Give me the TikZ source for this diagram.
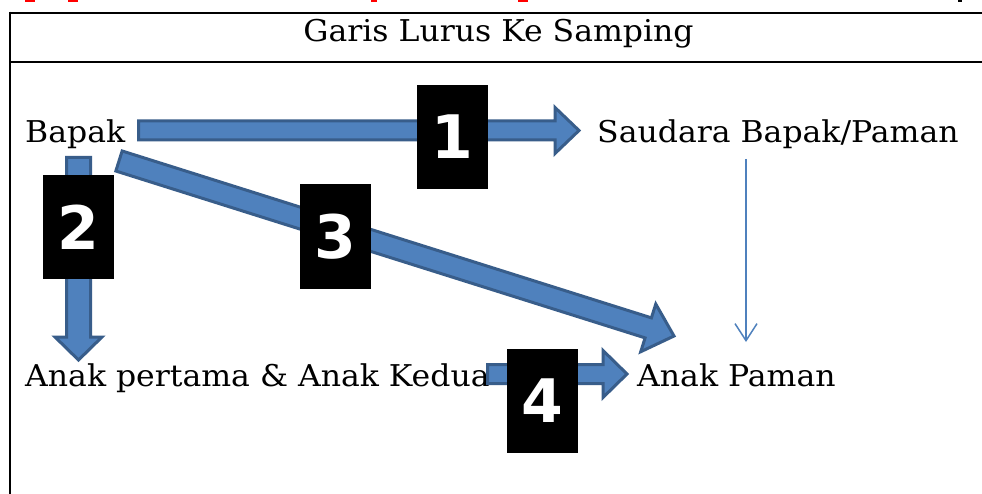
\documentclass[tikz,border=0pt]{standalone}
\usepackage{fontspec}
\setmainfont{DejaVu Serif}[FakeStretch=1.05]
\newfontfamily\numfont{DejaVu Sans}
\usetikzlibrary{calc,arrows.meta}
\definecolor{bfill}{HTML}{4F81BD}
\definecolor{bline}{HTML}{385D8A}
\definecolor{redmark}{HTML}{FF0000}
\tikzset{
  blockstyle/.style={fill=bfill,draw=bline,line width=3pt,line join=miter},
  lbl/.style={inner sep=0pt,anchor=base west,font=\fontsize{30}{30}\selectfont},
  numbox/.style={fill=black,inner sep=0pt,minimum width=71pt,minimum height=104pt,
    text=white,font=\numfont\bfseries\fontsize{60}{60}\selectfont},
  tableline/.style={line width=2pt,draw=black},
  thinarrow/.style={draw=bfill,line width=1.5pt,-{Straight Barb[length=17pt,width=22pt,line width=1.5pt]}}
}
\newcommand\blockarr[6]{%
  \coordinate (#1h) at ($(#3)!#6!(#2)$);
  \draw[blockstyle] ($(#2)!#4!90:(#3)$) -- ($(#1h)!#4!90:(#3)$) -- ($(#1h)!#5!90:(#3)$)
    -- (#3) -- ($(#1h)!#5!-90:(#3)$) -- ($(#1h)!#4!-90:(#3)$) -- ($(#2)!#4!-90:(#3)$) -- cycle;}
\begin{document}
\begin{tikzpicture}[x=1pt,y=-1pt]
\useasboundingbox (0,0) rectangle (982,494);
\fill[white] (0,0) rectangle (982,494);
% cut-off marks at top
\fill[redmark] (25,0) rectangle (35,2);
\fill[redmark] (68,0) rectangle (78,2);
\fill[redmark] (371,0) rectangle (377,2);
\fill[redmark] (518,0) rectangle (528,2);
\fill[black] (958,0) rectangle (962,2);
% table
\draw[tableline] (10,12.7) -- (982,12.7);
\draw[tableline] (10,61.7) -- (982,61.7);
\draw[tableline] (10,11.7) -- (10,494);
\node[inner sep=0pt,anchor=base,font=\fontsize{30}{30}\selectfont] (title) at (498.5,42) {Garis Lurus Ke Samping};
% labels
\node[lbl] (bapak) at (25,143) {Bapak};
\node[lbl] (saudara) at (597,143) {Saudara Bapak/Paman};
\node[lbl] (anak) at (25,386) {Anak pertama \& Anak Kedua};
\node[lbl] (anakpaman) at (637,386) {Anak Paman};
% arrow coordinates
\coordinate (a1s) at (138.5,130.5); \coordinate (a1e) at (579,130.5);
\coordinate (a2s) at (78.5,157.5);  \coordinate (a2e) at (78.5,360);
\coordinate (a3s) at (119,161);     \coordinate (a3e) at (674,336);
\coordinate (a4s) at (487.5,374);   \coordinate (a4e) at (627,374);
\coordinate (t1) at (746,159);      \coordinate (t2) at (746,342);
\blockarr{A}{a1s}{a1e}{9.5pt}{23pt}{24pt}
\blockarr{B}{a2s}{a2e}{12pt}{23.5pt}{23pt}
\blockarr{C}{a3s}{a3e}{10.5pt}{25pt}{27pt}
\blockarr{D}{a4s}{a4e}{9.5pt}{23.5pt}{24pt}
\draw[thinarrow] (t1) -- (t2);
% number boxes
\node[numbox] (n1) at (452.5,137) {1};
\node[numbox] (n2) at (78.5,227) {2};
\node[numbox] (n3) at (335.5,236.5) {3};
\node[numbox] (n4) at (542.5,400.5) {4};
\end{tikzpicture}
\end{document}
